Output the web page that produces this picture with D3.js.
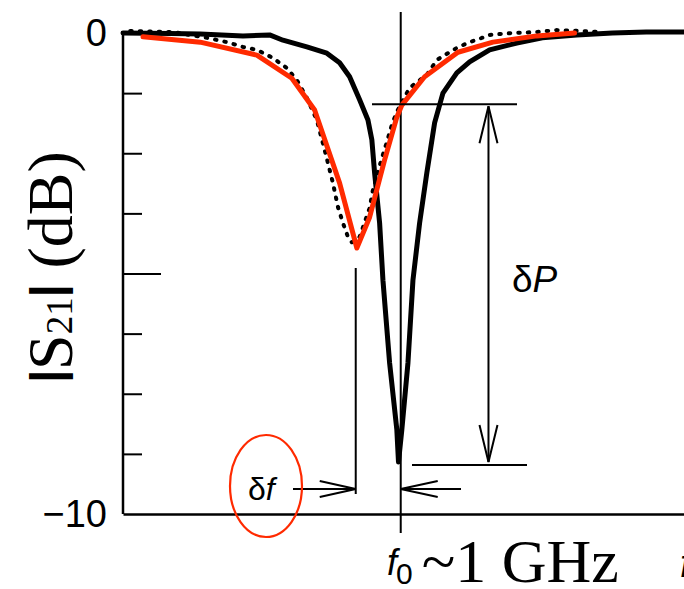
<!DOCTYPE html>
<html>
<head>
<meta charset="utf-8">
<script src="https://cdn.jsdelivr.net/npm/d3@7"></script>
<style>
  body { margin: 0; background: #fff; }
  svg { display: block; }
  .curve { fill: none; stroke-linejoin: round; stroke-linecap: round; }
  .annot { stroke: #000; stroke-width: 2; fill: none; }
</style>
</head>
<body>
<svg width="684" height="589"></svg>
<script>
// resonance curve (solid black): frequency (GHz), |S21| (dB)
var resFreq = [0.5, 0.585, 0.639, 0.716, 0.764, 0.788, 0.831, 0.867, 0.890, 0.908, 0.926, 0.941, 0.948,
               0.953, 0.962, 0.968, 0.980, 0.993, 0.996, 1.002, 1.013, 1.022, 1.034, 1.047, 1.061,
               1.076, 1.101, 1.124, 1.160, 1.209, 1.255, 1.317, 1.381, 1.442, 1.509];
var resDb   = [0, -0.01, -0.02, -0.06, -0.04, -0.15, -0.29, -0.42, -0.62, -0.91, -1.39, -1.81, -2.22,
               -2.91, -3.95, -5.14, -6.86, -8.25, -8.92, -8.25, -6.86, -5.14, -3.95, -2.91, -1.87,
               -1.25, -0.83, -0.60, -0.35, -0.21, -0.10, -0.04, 0.0, 0.02, 0.02];

// shifted measurement (dotted black)
var shiftFreq = [0.513, 0.590, 0.651, 0.687, 0.716, 0.741, 0.770, 0.795, 0.813, 0.831, 0.849, 0.863,
                 0.878, 0.887, 0.896, 0.905, 0.912, 0.926, 0.944, 0.950, 0.966, 0.975, 0.984, 0.993,
                 1.016, 1.047, 1.065, 1.085, 1.101, 1.124, 1.142, 1.160, 1.201, 1.245, 1.281, 1.327, 1.358];
var shiftDb   = [0.04, 0.02, -0.10, -0.19, -0.29, -0.35, -0.52, -0.73, -0.98, -1.35, -1.81, -2.43,
                 -3.12, -3.62, -3.95, -4.24, -4.35, -4.24, -3.64, -3.26, -2.60, -2.27, -1.91, -1.64,
                 -1.14, -0.87, -0.56, -0.42, -0.31, -0.19, -0.12, -0.04, 0.0, 0.02, 0.06, 0.04, 0.02];

// fit (red)
var fitFreq = [0.536, 0.639, 0.741, 0.804, 0.845, 0.890, 0.921, 0.944, 0.971, 0.993, 1.002,
               1.043, 1.103, 1.166, 1.245, 1.313];
var fitDb   = [-0.08, -0.19, -0.46, -0.94, -1.60, -3.12, -4.47, -3.83, -2.64, -1.75, -1.50,
               -0.91, -0.40, -0.19, -0.06, 0.0];

// y ticks and labels
var yTicks = [-1.25, -2.5, -3.75, -5, -6.25, -7.5, -8.75];
var yLabels = [0, -10];

// annotation values
var f0 = 1.0, fShift = 0.919, fArrow = 1.158;
var pTop = -1.48, pBottom = -8.98, pArrowY = -9.48;

var svg = d3.select("svg"),
    width = +svg.attr("width"),
    height = +svg.attr("height");

var x = d3.scaleLinear().domain([0.5, 1.51]).range([123, 684]),
    y = d3.scaleLinear().domain([-10, 0]).range([514, 33]);

function zip(a, b) { return a.map(function(d, i) { return [d, b[i]]; }); }

var line = d3.line()
    .x(function(d) { return x(d[0]); })
    .y(function(d) { return y(d[1]); });

// axes
svg.append("g")
    .attr("transform", "translate(0,514)")
    .call(d3.axisBottom(x).tickValues([]).tickSizeOuter(0))
    .call(function(g) { g.select(".domain").attr("stroke-width", 2.5); });

var yAxis = svg.append("g")
    .attr("transform", "translate(123,0)")
    .call(d3.axisRight(y).tickValues(yTicks).tickSize(19).tickSizeOuter(0).tickFormat(""));
yAxis.select(".domain").attr("stroke-width", 2.5).attr("d", "M0," + (y(0) - 2) + "V" + y(-10));
yAxis.selectAll(".tick line")
    .attr("stroke-width", 2)
    .attr("x2", function(d) { return d === -5 ? 38 : 19; });

svg.append("g")
    .attr("transform", "translate(123,0)")
    .call(d3.axisLeft(y).tickValues(yLabels).tickSize(0).tickPadding(16))
    .call(function(g) {
      g.select(".domain").remove();
      g.selectAll("text").attr("font-family", "Liberation Sans, Arial, sans-serif")
        .attr("font-size", 38).attr("fill", "#000");
    });

// f0 vertical line
svg.append("line").attr("class", "annot")
    .attr("x1", x(f0)).attr("x2", x(f0))
    .attr("y1", 12).attr("y2", 533);

// curves
svg.append("path").attr("class", "curve")
    .attr("d", line.curve(d3.curveLinear)(zip(shiftFreq, shiftDb)))
    .attr("stroke", "#000").attr("stroke-width", 4)
    .attr("stroke-dasharray", "1.5,8");

svg.append("path").attr("class", "curve")
    .attr("d", line.curve(d3.curveLinear)(zip(resFreq, resDb)))
    .attr("stroke", "#000").attr("stroke-width", 5);

svg.append("path").attr("class", "curve")
    .attr("d", line.curve(d3.curveLinear)(zip(fitFreq, fitDb)))
    .attr("stroke", "#ff2a00").attr("stroke-width", 5);

// deltaP annotation
svg.append("line").attr("class", "annot")
    .attr("x1", 372).attr("x2", 517).attr("y1", y(pTop)).attr("y2", y(pTop));
svg.append("line").attr("class", "annot")
    .attr("x1", 412).attr("x2", 527).attr("y1", y(pBottom)).attr("y2", y(pBottom));
var ax = x(fArrow);
svg.append("line").attr("class", "annot")
    .attr("x1", ax).attr("x2", ax).attr("y1", y(pTop) + 2).attr("y2", y(pBottom) - 3);
svg.append("path").attr("class", "annot")
    .attr("d", "M" + (ax - 9) + "," + (y(pTop) + 39) + "L" + ax + "," + (y(pTop) + 2) +
               "L" + (ax + 9) + "," + (y(pTop) + 39));
svg.append("path").attr("class", "annot")
    .attr("d", "M" + (ax - 9) + "," + (y(pBottom) - 40) + "L" + ax + "," + (y(pBottom) - 3) +
               "L" + (ax + 9) + "," + (y(pBottom) - 40));

// deltaf annotation
var ay = y(pArrowY), xs = x(fShift), x0 = x(f0);
svg.append("line").attr("class", "annot")
    .attr("x1", xs).attr("x2", xs).attr("y1", 268).attr("y2", 494);
svg.append("line").attr("class", "annot")
    .attr("x1", 293).attr("x2", xs).attr("y1", ay).attr("y2", ay);
svg.append("path").attr("class", "annot")
    .attr("d", "M" + (xs - 36) + "," + (ay - 8) + "L" + xs + "," + ay + "L" + (xs - 36) + "," + (ay + 8));
svg.append("line").attr("class", "annot")
    .attr("x1", x0).attr("x2", 461).attr("y1", ay).attr("y2", ay);
svg.append("path").attr("class", "annot")
    .attr("d", "M" + (x0 + 37) + "," + (ay - 8) + "L" + x0 + "," + ay + "L" + (x0 + 37) + "," + (ay + 8));

svg.append("ellipse")
    .attr("cx", 266).attr("cy", 486).attr("rx", 36).attr("ry", 51)
    .attr("fill", "none").attr("stroke", "#ff2a00").attr("stroke-width", 2.2);

// labels
var sans = "Liberation Sans, Arial, sans-serif",
    serif = "Liberation Serif, Times New Roman, serif";

var df = svg.append("text").attr("x", 248).attr("y", 500)
    .attr("font-family", sans).attr("font-size", 32);
df.append("tspan").text("δ");
df.append("tspan").attr("font-style", "italic").text("f");

var dp = svg.append("text").attr("x", 512).attr("y", 292)
    .attr("font-family", sans).attr("font-size", 37);
dp.append("tspan").text("δ");
dp.append("tspan").attr("font-style", "italic").text("P");

var xl = svg.append("text").attr("x", 387).attr("y", 575)
    .attr("font-family", sans).attr("font-size", 36);
xl.append("tspan").attr("font-style", "italic").text("f");
xl.append("tspan").attr("font-size", 30).attr("dx", -1).attr("dy", 9).text("0");
xl.append("tspan").attr("font-family", serif).attr("font-size", 62).attr("dx", 9).attr("dy", -2).text("~1 GHz");

svg.append("text").attr("x", 680).attr("y", 577)
    .attr("font-family", sans).attr("font-size", 38).attr("font-style", "italic").text("f");

var yl = svg.append("text")
    .attr("transform", "translate(72,267) rotate(-90)")
    .attr("text-anchor", "middle")
    .attr("font-family", serif).attr("font-size", 64);
yl.append("tspan").attr("font-family", sans).attr("font-weight", "bold").attr("font-size", 46).attr("dy", -9).text("|");
yl.append("tspan").attr("dy", 9).text("S");
yl.append("tspan").attr("font-size", 37).text("21");
yl.append("tspan").attr("font-family", sans).attr("font-weight", "bold").attr("font-size", 46).attr("dy", -9).text("|");
yl.append("tspan").attr("dy", 9).text(" (dB)");
</script>
</body>
</html>
